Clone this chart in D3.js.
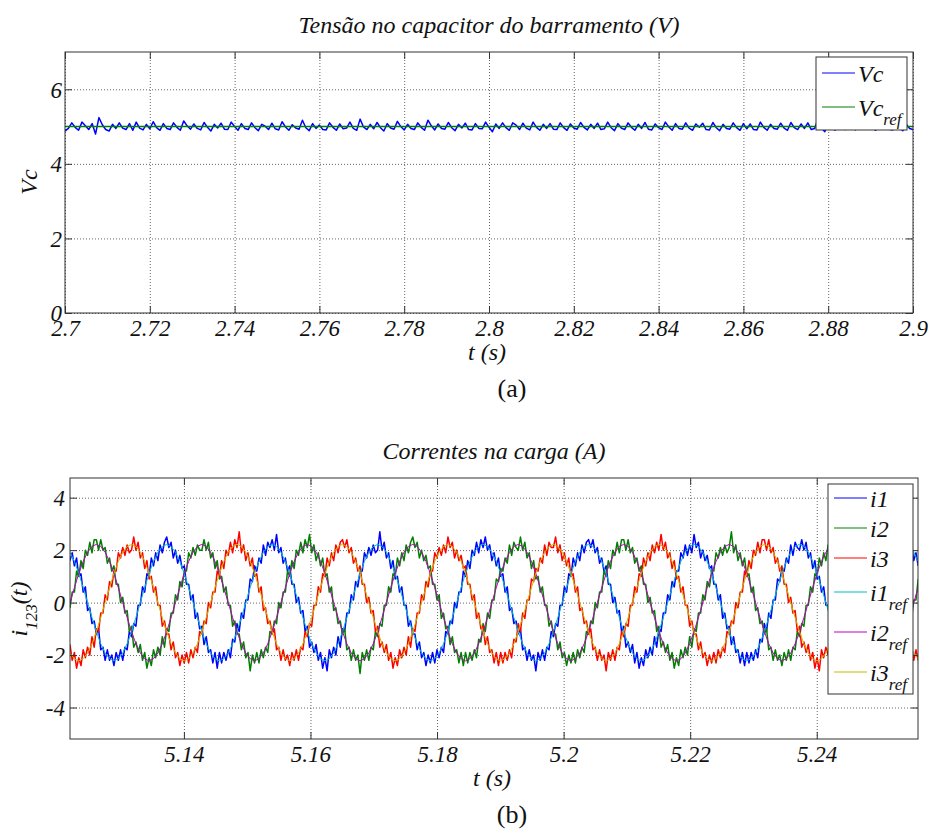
<!DOCTYPE html>
<html>
<head>
<meta charset="utf-8">
<title>Tensão no capacitor e correntes na carga</title>
<script src="https://cdn.jsdelivr.net/npm/d3@7"></script>
<style>
  body { margin: 0; background: #fff; }
  svg text { font-family: "Liberation Serif", "Times New Roman", serif; font-style: italic; fill: #111; }
  svg text.caption { font-style: normal; }
</style>
</head>
<body>
<div id="chart"></div>
<script>
// ---------- (a) bus capacitor voltage ----------
var vcStart = 2.7, vcStep = 0.0008;
var vcValues = [
  4.88, 4.95, 5.10, 4.98, 4.90, 5.12, 5.02, 4.92, 5.08, 4.80,
  5.24, 5.05, 4.92, 4.88, 5.06, 4.95, 5.10, 4.96, 4.92, 5.08,
  4.90, 5.12, 4.96, 4.91, 5.06, 4.94, 5.13, 4.97, 4.90, 5.08,
  4.95, 4.92, 5.10, 4.98, 4.90, 5.15, 5.02, 4.93, 5.07, 4.95,
  4.91, 5.11, 4.98, 4.88, 5.06, 4.96, 5.09, 4.93, 4.92, 5.12,
  5.00, 4.90, 5.08, 4.95, 4.92, 5.10, 4.97, 4.89, 5.06, 5.01,
  4.92, 5.09, 4.94, 4.91, 5.13, 4.99, 4.90, 5.05, 4.96, 4.93,
  5.17, 4.97, 4.89, 5.08, 4.95, 5.04, 4.92, 4.91, 5.10, 4.98,
  4.90, 5.07, 4.94, 4.96, 5.12, 4.95, 4.90, 5.20, 4.99, 4.92,
  5.06, 4.94, 5.11, 4.97, 4.88, 5.08, 4.96, 4.93, 5.14, 5.00,
  4.91, 5.06, 4.95, 4.92, 5.10, 4.98, 4.90, 5.17, 5.02, 4.91,
  5.07, 4.95, 4.93, 5.11, 4.97, 4.89, 5.06, 4.96, 5.09, 4.92,
  4.91, 5.08, 4.95, 4.94, 5.12, 4.98, 4.86, 5.07, 4.95, 5.10,
  4.97, 4.90, 5.10, 5.04, 4.92, 5.09, 4.96, 4.91, 5.12, 4.98,
  4.90, 5.06, 4.95, 5.08, 4.93, 4.92, 5.10, 4.97, 4.90, 5.07,
  4.96, 4.93, 5.11, 4.98, 4.91, 5.06, 4.95, 5.09, 4.92, 4.94,
  5.12, 4.97, 4.89, 5.08, 4.96, 4.92, 5.10, 4.98, 4.90, 5.06,
  4.95, 5.11, 4.93, 4.91, 5.07, 4.97, 4.92, 5.12, 4.99, 4.90,
  5.08, 4.95, 4.93, 5.10, 4.96, 4.90, 5.07, 4.98, 5.09, 4.92,
  4.91, 5.11, 4.97, 4.89, 5.06, 4.95, 4.93, 5.10, 4.97, 4.90,
  5.08, 4.94, 5.07, 4.92, 4.91, 5.12, 4.98, 4.90, 5.06, 4.95,
  4.93, 5.09, 4.96, 4.90, 5.11, 4.97, 4.92, 5.07, 4.95, 5.10,
  4.92, 4.95, 5.20, 4.96, 4.86, 5.12, 4.98, 4.90, 5.10, 4.95,
  4.92, 5.10, 5.05, 4.91, 5.09, 4.96, 4.93, 5.10, 4.97, 4.90,
  5.07, 4.95, 5.09, 4.93, 4.91, 5.11, 4.97, 4.89, 5.06, 4.95,
  4.92
];
var vcRefTimes = [2.7, 2.9];
var vcRefValues = [5, 5];
var vcXTicks = [2.7, 2.72, 2.74, 2.76, 2.78, 2.8, 2.82, 2.84, 2.86, 2.88, 2.9];
var vcXLabels = ["2.7", "2.72", "2.74", "2.76", "2.78", "2.8", "2.82", "2.84", "2.86", "2.88", "2.9"];
var vcYTicks = [0, 2, 4, 6];
var vcYLabels = ["0", "2", "4", "6"];
var vcNames = ["Vc", "Vc"];
var vcSubs = ["", "ref"];
var vcColors = ["#0000ff", "#008000"];

// ---------- (b) load currents ----------
var iStart = 5.122, iStep = 1 / 2880, iRefStep = 1 / 1440;
var i1Values = [
  1.6,1.9,1.4,1.7,1.0,1.1,0.4,0.6,-0.3,-0.2,-0.8,-0.7,-1.2,-1.0,-1.8,-1.7,-2.2,-1.8,-2.2,-2.0,-2.4,-1.9,-2.2,-1.8,-2.2,-1.7,-1.8,-1.1,-1.3,-0.8,-0.9,-0.1,-0.1,0.6,0.4,1.1,1.0,1.7,1.4,1.9,1.6,2.2,1.9,2.3,
  2.5,2.1,2.3,1.7,2.0,1.5,1.8,1.3,1.4,0.7,0.7,0.1,0.3,-0.6,-0.4,-1.0,-0.9,-1.6,-1.3,-1.9,-1.8,-2.3,-1.9,-2.5,-1.9,-2.3,-1.9,-2.2,-1.8,-2.1,-1.4,-1.5,-0.8,-1.1,-0.4,-0.6,0.1,0.1,0.9,0.8,1.4,1.2,1.7,1.5,2.2,1.8,2.3,2.1,
  2.4,2.0,2.6,1.9,2.1,1.5,1.7,1.2,1.4,0.7,0.7,0.0,0.2,-0.4,-0.3,-1.1,-0.9,-1.7,-1.5,-1.9,-1.6,-2.2,-1.9,-2.5,-2.1,-2.6,-1.8,-2.1,-1.7,-2.0,-1.3,-1.7,-1.0,-1.1,-0.4,-0.4,0.3,0.1,0.8,0.6,1.2,1.2,1.9,1.7,2.1,1.8,2.2,1.9,
  2.0,2.7,2.0,2.3,1.7,1.9,1.3,1.6,0.9,1.0,0.4,0.6,-0.1,-0.1,-0.9,-0.7,-1.2,-1.2,-1.8,-1.5,-2.1,-1.9,-2.4,-2.0,-2.3,-1.9,-2.3,-1.8,-2.1,-1.7,-1.9,-1.1,-1.2,-0.7,-0.8,0.0,-0.2,0.4,0.4,1.2,1.0,1.6,1.3,2.0,1.8,2.3,1.9,2.4,
  2.1,2.5,2.0,2.2,1.6,1.9,1.4,1.7,1.0,1.1,0.4,0.6,-0.3,-0.2,-0.8,-0.7,-1.2,-1.0,-1.8,-1.7,-2.2,-1.8,-2.2,-2.0,-2.6,-1.9,-2.2,-1.8,-2.2,-1.7,-1.8,-1.1,-1.3,-0.8,-0.9,-0.1,-0.1,0.6,0.4,1.1,1.0,1.7,1.4,1.9,1.6,2.2,1.9,2.3,
  2.4,2.1,2.4,1.9,2.1,1.5,1.7,1.2,1.4,0.7,0.7,0.0,0.2,-0.4,-0.3,-1.1,-0.9,-1.7,-1.5,-1.9,-1.6,-2.3,-1.9,-2.5,-2.1,-2.4,-1.8,-2.1,-1.7,-2.0,-1.3,-1.7,-1.0,-1.1,-0.4,-0.4,0.3,0.1,0.8,0.6,1.2,1.2,1.9,1.7,2.2,1.8,2.2,1.9,
  2.6,2.1,2.3,1.7,2.0,1.6,1.8,1.3,1.4,0.7,0.7,0.1,0.3,-0.6,-0.4,-1.0,-0.9,-1.6,-1.3,-1.9,-1.8,-2.3,-1.9,-2.4,-1.9,-2.3,-1.9,-2.2,-1.8,-2.1,-1.4,-1.5,-0.8,-1.1,-0.4,-0.6,0.1,0.1,0.9,0.8,1.3,1.2,1.7,1.5,2.2,1.8,2.3,2.1,
  2.0,2.4,2.0,2.3,1.7,1.9,1.3,1.6,0.9,1.0,0.4,0.6,-0.1,-0.1,-0.9,-0.7,-1.2,-1.2,-1.8,-1.5,-2.1,-1.9,-2.4,-2.0,-2.3,-1.9,-2.3,-1.8,-2.1,-1.7,-1.9,-1.1,-1.2,-0.7,-0.8,0.0,-0.2,0.4,0.4,1.2,1.0,1.6,1.3,2.0,1.8,2.3,1.9,2.4,
  2.1,2.5,1.9,2.2,1.6,1.9,1.4
];
var i2Values = [
  -0.2,0.4,0.4,1.2,1.0,1.6,1.3,2.0,1.8,2.3,1.9,2.4,
  2.4,2.0,2.4,2.0,2.1,1.5,1.7,1.2,1.4,0.7,0.7,0.0,0.2,-0.4,-0.3,-1.1,-0.9,-1.7,-1.5,-1.9,-1.6,-2.2,-1.9,-2.5,-2.1,-2.4,-1.8,-2.1,-1.7,-2.0,-1.3,-1.7,-1.0,-1.1,-0.4,-0.4,0.3,0.1,0.8,0.6,1.2,1.2,1.9,1.7,2.1,1.8,2.2,2.0,
  2.0,2.4,2.0,2.3,1.7,1.9,1.3,1.6,0.9,1.0,0.4,0.6,-0.1,-0.1,-0.9,-0.7,-1.2,-1.2,-1.8,-1.5,-2.1,-1.9,-2.6,-2.0,-2.3,-1.9,-2.3,-1.8,-2.1,-1.7,-1.9,-1.1,-1.2,-0.7,-0.8,0.0,-0.2,0.4,0.4,1.2,1.0,1.6,1.3,2.0,1.8,2.3,1.9,2.4,
  2.1,2.6,1.9,2.2,1.6,1.9,1.4,1.7,1.0,1.1,0.4,0.6,-0.3,-0.2,-0.8,-0.7,-1.2,-1.0,-1.8,-1.7,-2.2,-1.8,-2.2,-2.0,-2.7,-1.9,-2.2,-1.8,-2.2,-1.7,-1.8,-1.1,-1.3,-0.8,-0.9,-0.1,-0.1,0.6,0.4,1.1,1.0,1.7,1.4,1.9,1.6,2.2,1.9,2.3,
  2.5,2.1,2.3,1.7,2.0,1.6,1.8,1.3,1.4,0.7,0.7,0.1,0.3,-0.6,-0.4,-1.0,-0.9,-1.6,-1.3,-1.9,-1.8,-2.3,-1.9,-2.4,-1.9,-2.3,-1.9,-2.2,-1.8,-2.1,-1.4,-1.5,-0.8,-1.1,-0.4,-0.6,0.1,0.1,0.9,0.8,1.3,1.2,1.7,1.5,2.2,1.8,2.3,2.1,
  2.0,2.5,2.0,2.3,1.7,1.9,1.3,1.6,0.9,1.0,0.4,0.6,-0.1,-0.1,-0.9,-0.7,-1.2,-1.2,-1.8,-1.5,-2.1,-1.9,-2.4,-2.0,-2.3,-1.9,-2.3,-1.8,-2.1,-1.7,-1.9,-1.1,-1.2,-0.7,-0.8,0.0,-0.2,0.4,0.4,1.2,1.0,1.6,1.3,2.0,1.8,2.3,1.9,2.4,
  2.4,2.0,2.4,1.9,2.1,1.5,1.7,1.2,1.4,0.7,0.7,0.0,0.2,-0.4,-0.3,-1.1,-0.9,-1.7,-1.5,-1.9,-1.6,-2.2,-1.9,-2.5,-2.1,-2.4,-1.8,-2.1,-1.7,-2.0,-1.3,-1.7,-1.0,-1.1,-0.4,-0.4,0.3,0.1,0.8,0.6,1.2,1.2,1.9,1.7,2.1,1.8,2.2,1.9,
  2.1,2.7,1.9,2.2,1.6,1.9,1.4,1.7,1.0,1.1,0.4,0.6,-0.3,-0.2,-0.8,-0.7,-1.2,-1.0,-1.8,-1.7,-2.2,-1.8,-2.2,-2.0,-2.4,-1.9,-2.2,-1.8,-2.2,-1.7,-1.8,-1.1,-1.3,-0.8,-0.9,-0.1,-0.1,0.6,0.4,1.1,1.0,1.7,1.4,1.9,1.6,2.2,1.9,2.3,
  2.5,2.1,2.3,1.7,2.0,1.6,1.8,1.3,1.4,0.7,0.7,0.1,0.3,-0.6,-0.4,-1.0,-0.9,-1.6,-1.3,-1.9,-1.8,-2.3,-1.9,-2.4,-1.9,-2.3,-1.9,-2.2,-1.8,-2.1,-1.4,-1.5,-0.8,-1.1,-0.4,-0.6,0.1,0.1,0.9
];
var i3Values = [
  -1.6,-2.2,-1.9,-2.5,-2.1,-2.4,-1.8,-2.1,-1.7,-2.0,-1.3,-1.7,-1.0,-1.1,-0.4,-0.4,0.3,0.1,0.8,0.6,1.2,1.2,1.9,1.7,2.1,1.8,2.2,1.9,
  2.0,2.5,2.0,2.3,1.7,1.9,1.3,1.6,0.9,1.0,0.4,0.6,-0.1,-0.1,-0.9,-0.7,-1.2,-1.2,-1.8,-1.5,-2.1,-1.9,-2.4,-2.0,-2.3,-1.9,-2.3,-1.8,-2.1,-1.7,-1.9,-1.1,-1.2,-0.7,-0.8,0.0,-0.2,0.4,0.4,1.2,1.0,1.6,1.3,2.0,1.8,2.3,1.9,2.4,
  2.1,2.7,1.9,2.2,1.6,1.9,1.4,1.7,1.0,1.1,0.4,0.6,-0.3,-0.2,-0.8,-0.7,-1.2,-1.0,-1.8,-1.7,-2.2,-1.8,-2.2,-2.0,-2.4,-1.9,-2.2,-1.8,-2.2,-1.7,-1.8,-1.1,-1.3,-0.8,-0.9,-0.1,-0.1,0.6,0.4,1.1,1.0,1.7,1.4,1.9,1.6,2.2,1.9,2.3,
  2.4,2.1,2.4,1.9,2.1,1.5,1.7,1.2,1.4,0.7,0.7,0.0,0.2,-0.4,-0.3,-1.1,-0.9,-1.7,-1.5,-1.9,-1.6,-2.2,-1.9,-2.5,-2.1,-2.4,-1.8,-2.1,-1.7,-2.0,-1.3,-1.7,-1.0,-1.1,-0.4,-0.4,0.3,0.1,0.8,0.6,1.2,1.2,1.9,1.7,2.1,1.8,2.2,1.9,
  2.5,2.1,2.3,1.7,2.0,1.6,1.8,1.3,1.4,0.7,0.7,0.1,0.3,-0.6,-0.4,-1.0,-0.9,-1.6,-1.3,-1.9,-1.8,-2.3,-1.9,-2.4,-1.9,-2.3,-1.9,-2.2,-1.8,-2.1,-1.4,-1.5,-0.8,-1.1,-0.4,-0.6,0.1,0.1,0.9,0.8,1.3,1.2,1.7,1.5,2.2,1.8,2.3,2.1,
  2.1,2.5,1.9,2.2,1.6,1.9,1.4,1.7,1.0,1.1,0.4,0.6,-0.3,-0.2,-0.8,-0.7,-1.2,-1.0,-1.8,-1.7,-2.2,-1.8,-2.2,-2.0,-2.6,-1.9,-2.2,-1.8,-2.2,-1.7,-1.8,-1.1,-1.3,-0.8,-0.9,-0.1,-0.1,0.6,0.4,1.1,1.0,1.7,1.4,1.9,1.6,2.2,1.9,2.3,
  2.0,2.6,2.0,2.3,1.7,1.9,1.3,1.6,0.9,1.0,0.4,0.6,-0.1,-0.1,-0.9,-0.7,-1.2,-1.2,-1.8,-1.5,-2.1,-1.9,-2.4,-2.0,-2.3,-1.9,-2.3,-1.8,-2.1,-1.7,-1.9,-1.1,-1.2,-0.7,-0.8,0.0,-0.2,0.4,0.4,1.2,1.0,1.6,1.3,2.0,1.8,2.3,1.9,2.4,
  2.4,2.0,2.4,1.9,2.1,1.5,1.7,1.2,1.4,0.7,0.7,0.0,0.2,-0.4,-0.3,-1.1,-0.9,-1.7,-1.5,-1.9,-1.6,-2.2,-1.9,-2.5,-2.1,-2.6,-1.8,-2.1,-1.7,-2.0,-1.3,-1.7,-1.0,-1.1,-0.4,-0.4,0.3,0.1,0.8,0.6,1.2,1.2,1.9,1.7,2.1,1.8,2.2,1.9,
  2.1,2.5,1.9,2.2,1.6,1.9,1.4,1.7,1.0,1.1,0.4,0.6,-0.3,-0.2,-0.8,-0.7,-1.2,-1.0,-1.8,-1.7,-2.2,-1.8,-2.2
];
var i1RefValues = [
  1.92,1.57,1.11,0.57,0,-0.57,-1.11,-1.57,-1.92,-2.14,-2.22,-2.14,-1.92,-1.57,-1.11,-0.57,0,0.57,1.11,1.57,1.92,2.14,
  2.22,2.14,1.92,1.57,1.11,0.57,0,-0.57,-1.11,-1.57,-1.92,-2.14,-2.22,-2.14,-1.92,-1.57,-1.11,-0.57,0,0.57,1.11,1.57,1.92,2.14,
  2.22,2.14,1.92,1.57,1.11,0.57,0,-0.57,-1.11,-1.57,-1.92,-2.14,-2.22,-2.14,-1.92,-1.57,-1.11,-0.57,0,0.57,1.11,1.57,1.92,2.14,
  2.22,2.14,1.92,1.57,1.11,0.57,0,-0.57,-1.11,-1.57,-1.92,-2.14,-2.22,-2.14,-1.92,-1.57,-1.11,-0.57,0,0.57,1.11,1.57,1.92,2.14,
  2.22,2.14,1.92,1.57,1.11,0.57,0,-0.57,-1.11,-1.57,-1.92,-2.14,-2.22,-2.14,-1.92,-1.57,-1.11,-0.57,0,0.57,1.11,1.57,1.92,2.14,
  2.22,2.14,1.92,1.57,1.11,0.57,0,-0.57,-1.11,-1.57,-1.92,-2.14,-2.22,-2.14,-1.92,-1.57,-1.11,-0.57,0,0.57,1.11,1.57,1.92,2.14,
  2.22,2.14,1.92,1.57,1.11,0.57,0,-0.57,-1.11,-1.57,-1.92,-2.14,-2.22,-2.14,-1.92,-1.57,-1.11,-0.57,0,0.57,1.11,1.57,1.92,2.14,
  2.22,2.14,1.92,1.57,1.11,0.57,0,-0.57,-1.11,-1.57,-1.92,-2.14,-2.22,-2.14,-1.92,-1.57,-1.11,-0.57,0,0.57,1.11,1.57,1.92,2.14,
  2.22,2.14,1.92,1.57
];
var i2RefValues = [
  0,0.57,1.11,1.57,1.92,2.14,
  2.22,2.14,1.92,1.57,1.11,0.57,0,-0.57,-1.11,-1.57,-1.92,-2.14,-2.22,-2.14,-1.92,-1.57,-1.11,-0.57,0,0.57,1.11,1.57,1.92,2.14,
  2.22,2.14,1.92,1.57,1.11,0.57,0,-0.57,-1.11,-1.57,-1.92,-2.14,-2.22,-2.14,-1.92,-1.57,-1.11,-0.57,0,0.57,1.11,1.57,1.92,2.14,
  2.22,2.14,1.92,1.57,1.11,0.57,0,-0.57,-1.11,-1.57,-1.92,-2.14,-2.22,-2.14,-1.92,-1.57,-1.11,-0.57,0,0.57,1.11,1.57,1.92,2.14,
  2.22,2.14,1.92,1.57,1.11,0.57,0,-0.57,-1.11,-1.57,-1.92,-2.14,-2.22,-2.14,-1.92,-1.57,-1.11,-0.57,0,0.57,1.11,1.57,1.92,2.14,
  2.22,2.14,1.92,1.57,1.11,0.57,0,-0.57,-1.11,-1.57,-1.92,-2.14,-2.22,-2.14,-1.92,-1.57,-1.11,-0.57,0,0.57,1.11,1.57,1.92,2.14,
  2.22,2.14,1.92,1.57,1.11,0.57,0,-0.57,-1.11,-1.57,-1.92,-2.14,-2.22,-2.14,-1.92,-1.57,-1.11,-0.57,0,0.57,1.11,1.57,1.92,2.14,
  2.22,2.14,1.92,1.57,1.11,0.57,0,-0.57,-1.11,-1.57,-1.92,-2.14,-2.22,-2.14,-1.92,-1.57,-1.11,-0.57,0,0.57,1.11,1.57,1.92,2.14,
  2.22,2.14,1.92,1.57,1.11,0.57,0,-0.57,-1.11,-1.57,-1.92,-2.14,-2.22,-2.14,-1.92,-1.57,-1.11,-0.57,0,0.57
];
var i3RefValues = [
  -1.92,-2.14,-2.22,-2.14,-1.92,-1.57,-1.11,-0.57,0,0.57,1.11,1.57,1.92,2.14,
  2.22,2.14,1.92,1.57,1.11,0.57,0,-0.57,-1.11,-1.57,-1.92,-2.14,-2.22,-2.14,-1.92,-1.57,-1.11,-0.57,0,0.57,1.11,1.57,1.92,2.14,
  2.22,2.14,1.92,1.57,1.11,0.57,0,-0.57,-1.11,-1.57,-1.92,-2.14,-2.22,-2.14,-1.92,-1.57,-1.11,-0.57,0,0.57,1.11,1.57,1.92,2.14,
  2.22,2.14,1.92,1.57,1.11,0.57,0,-0.57,-1.11,-1.57,-1.92,-2.14,-2.22,-2.14,-1.92,-1.57,-1.11,-0.57,0,0.57,1.11,1.57,1.92,2.14,
  2.22,2.14,1.92,1.57,1.11,0.57,0,-0.57,-1.11,-1.57,-1.92,-2.14,-2.22,-2.14,-1.92,-1.57,-1.11,-0.57,0,0.57,1.11,1.57,1.92,2.14,
  2.22,2.14,1.92,1.57,1.11,0.57,0,-0.57,-1.11,-1.57,-1.92,-2.14,-2.22,-2.14,-1.92,-1.57,-1.11,-0.57,0,0.57,1.11,1.57,1.92,2.14,
  2.22,2.14,1.92,1.57,1.11,0.57,0,-0.57,-1.11,-1.57,-1.92,-2.14,-2.22,-2.14,-1.92,-1.57,-1.11,-0.57,0,0.57,1.11,1.57,1.92,2.14,
  2.22,2.14,1.92,1.57,1.11,0.57,0,-0.57,-1.11,-1.57,-1.92,-2.14,-2.22,-2.14,-1.92,-1.57,-1.11,-0.57,0,0.57,1.11,1.57,1.92,2.14,
  2.22,2.14,1.92,1.57,1.11,0.57,0,-0.57,-1.11,-1.57,-1.92,-2.14
];
var iXTicks = [5.14, 5.16, 5.18, 5.2, 5.22, 5.24];
var iXLabels = ["5.14", "5.16", "5.18", "5.2", "5.22", "5.24"];
var iYTicks = [-4, -2, 0, 2, 4];
var iYLabels = ["-4", "-2", "0", "2", "4"];
var iNames = ["i1", "i2", "i3", "i1", "i2", "i3"];
var iSubs = ["", "", "", "ref", "ref", "ref"];
var iColors = ["#0000ff", "#008000", "#ff0000", "#00bfbf", "#bf00bf", "#bfbf00"];

var svg = d3.select("#chart").append("svg")
    .attr("width", 932)
    .attr("height", 836);

function styleGrid(sel) {
    sel.select(".domain").remove();
    sel.selectAll(".tick line")
        .attr("stroke", "#666")
        .attr("stroke-dasharray", "1,2");
}

function styleAxis(sel) {
    sel.attr("font-size", null).attr("font-family", null);
    sel.select(".domain").remove();
    sel.selectAll(".tick line").attr("stroke", "#333");
    sel.selectAll(".tick text").attr("font-size", 23).attr("fill", "#111");
}

function drawPanel(p) {
    var w = p.right - p.left, h = p.bottom - p.top;
    var x = d3.scaleLinear().domain(p.xDomain).range([0, w]);
    var y = d3.scaleLinear().domain(p.yDomain).range([h, 0]);
    var g = svg.append("g").attr("transform", "translate(" + p.left + "," + p.top + ")");

    g.append("g").attr("transform", "translate(0," + h + ")")
        .call(d3.axisBottom(x).tickValues(p.xTicks).tickSize(-h).tickFormat(""))
        .call(styleGrid);
    g.append("g")
        .call(d3.axisLeft(y).tickValues(p.yTicks).tickSize(-w).tickFormat(""))
        .call(styleGrid);

    g.append("clipPath").attr("id", "clip-" + p.id)
        .append("rect").attr("width", w).attr("height", h);
    var plot = g.append("g").attr("clip-path", "url(#clip-" + p.id + ")");

    p.series.forEach(function (s) {
        var line = d3.line()
            .x(function (d, i) { return x(s.times ? s.times[i] : s.start + i * s.step); })
            .y(function (d) { return y(d); });
        plot.append("path")
            .datum(s.values)
            .attr("fill", "none")
            .attr("stroke", s.color)
            .attr("stroke-width", s.width)
            .attr("stroke-linejoin", "round")
            .attr("d", line);
    });

    g.append("rect")
        .attr("width", w).attr("height", h)
        .attr("fill", "none").attr("stroke", "#333");

    // MATLAB style ticks pointing inwards on all four sides
    var bottom = g.append("g").attr("transform", "translate(0," + h + ")")
        .call(d3.axisBottom(x).tickValues(p.xTicks).tickSize(-7)
            .tickFormat(function (d, i) { return p.xLabels[i]; }))
        .call(styleAxis);
    bottom.selectAll(".tick text").attr("y", 23).attr("dy", null);
    g.append("g")
        .call(d3.axisTop(x).tickValues(p.xTicks).tickSize(-7).tickFormat(""))
        .call(styleAxis);
    var left = g.append("g")
        .call(d3.axisLeft(y).tickValues(p.yTicks).tickSize(-7)
            .tickFormat(function (d, i) { return p.yLabels[i]; }))
        .call(styleAxis);
    left.selectAll(".tick text").attr("x", -p.yGap).attr("dy", "0.34em");
    g.append("g").attr("transform", "translate(" + w + ",0)")
        .call(d3.axisRight(y).tickValues(p.yTicks).tickSize(-7).tickFormat(""))
        .call(styleAxis);

    svg.append("text")
        .attr("x", (p.left + p.right) / 2).attr("y", p.top - 19)
        .attr("text-anchor", "middle").attr("font-size", 24)
        .text(p.title);
    svg.append("text")
        .attr("x", (p.left + p.right) / 2 - 2).attr("y", p.bottom + 47)
        .attr("text-anchor", "middle").attr("font-size", 24)
        .text("t (s)");
    svg.append("text")
        .attr("class", "caption")
        .attr("x", 512).attr("y", p.bottom + 84)
        .attr("text-anchor", "middle").attr("font-size", 26)
        .text(p.caption);
}

function drawLegend(l) {
    var g = svg.append("g");
    g.append("rect")
        .attr("x", l.x).attr("y", l.y).attr("width", l.w).attr("height", l.h)
        .attr("fill", "#fff").attr("stroke", "#333");
    var yPos = l.firstY;
    l.names.forEach(function (name, i) {
        if (i > 0) yPos += l.subs[i] ? (l.subs[i - 1] ? 40 : 34) : 30;
        g.append("line")
            .attr("x1", l.lineX).attr("x2", l.lineX + 33)
            .attr("y1", yPos).attr("y2", yPos)
            .attr("stroke", l.colors[i]).attr("stroke-width", 1.2);
        var t = g.append("text")
            .attr("x", l.lineX + 36).attr("y", yPos + 9)
            .attr("font-size", 24)
            .text(name);
        if (l.subs[i]) {
            t.append("tspan").attr("font-size", 17).attr("dy", 9).text(l.subs[i]);
        }
    });
}

// (a)
drawPanel({
    id: "vc", left: 65, right: 913, top: 52, bottom: 313,
    xDomain: [2.7, 2.9], yDomain: [0, 7],
    xTicks: vcXTicks, xLabels: vcXLabels, yTicks: vcYTicks, yLabels: vcYLabels, yGap: 3,
    title: "Tensão no capacitor do barramento (V)", caption: "(a)",
    series: [
        { values: vcValues, start: vcStart, step: vcStep, color: vcColors[0], width: 1.5 },
        { values: vcRefValues, times: vcRefTimes, color: vcColors[1], width: 1.5 }
    ]
});
svg.append("text")
    .attr("transform", "translate(37,182) rotate(-90)")
    .attr("text-anchor", "middle").attr("font-size", 24)
    .text("Vc");
drawLegend({
    x: 816, y: 57, w: 91, h: 73, firstY: 73, lineX: 822,
    names: vcNames, subs: vcSubs, colors: vcColors
});

// (b)
drawPanel({
    id: "cur", left: 70, right: 918, top: 478, bottom: 739,
    xDomain: [5.122, 5.256], yDomain: [-5.2, 4.75],
    xTicks: iXTicks, xLabels: iXLabels, yTicks: iYTicks, yLabels: iYLabels, yGap: 5,
    title: "Correntes na carga (A)", caption: "(b)",
    series: [
        { values: i1Values, start: iStart, step: iStep, color: iColors[0], width: 1.5 },
        { values: i2Values, start: iStart, step: iStep, color: iColors[1], width: 1.5 },
        { values: i3Values, start: iStart, step: iStep, color: iColors[2], width: 1.5 },
        { values: i1RefValues, start: iStart, step: iRefStep, color: iColors[3], width: 1 },
        { values: i2RefValues, start: iStart, step: iRefStep, color: iColors[4], width: 1 },
        { values: i3RefValues, start: iStart, step: iRefStep, color: iColors[5], width: 1 }
    ]
});
var yLab = svg.append("text")
    .attr("transform", "translate(27,609) rotate(-90)")
    .attr("text-anchor", "middle").attr("font-size", 24);
yLab.append("tspan").text("i");
yLab.append("tspan").attr("font-size", 17).attr("dy", 10).text("123");
yLab.append("tspan").attr("dy", -10).text("(t)");
drawLegend({
    x: 828, y: 484, w: 85, h: 210, firstY: 498, lineX: 834,
    names: iNames, subs: iSubs, colors: iColors
});
</script>
</body>
</html>
